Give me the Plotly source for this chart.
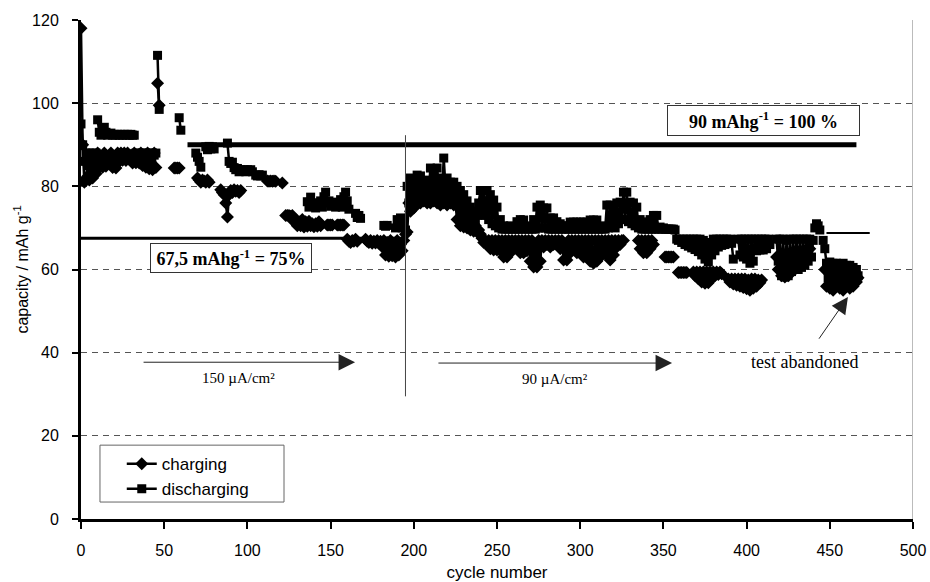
import plotly.graph_objects as go

# ---------------- data ----------------
# Each series is stored as segments: a start cycle and one capacity value per cycle.
chg_seg_start = [0, 46, 56, 70, 84, 112, 121, 123, 148, 154, 160, 171, 335, 351, 359, 368, 389, 418, 447]
chg_seg_values = [
    [118, 90, 81, 82, 86, 81.5, 87, 82, 86, 83,
     88, 84.5, 87, 84.6, 88, 84.8, 87, 86, 88, 84.5,
     87, 84.4, 88, 86, 88, 86.3, 88, 86.2, 88, 86.5,
     87.5, 85.6, 88, 85.7, 87, 85.6, 88, 85, 87.5, 84.6,
     88, 84.2, 87, 84, 88, 84.5],
    [104.8, 99.5],
    [84.4, 84.4, 84.4, 84.4],
    [82, 81.5, 81, 81.5, 81.3, 81, 81.5, 81],
    [79.2, 78.5, 78, 76, 72.6, 78, 79, 78.5, 79.2, 78.8, 79, 78.5, 79],
    [81.3, 81.2, 81.3, 81.2, 81.3, 81.2],
    [80.8],
    [73, 73, 73, 72.8, 73, 71.5, 72, 70.5, 71.5, 70.5, 72, 70.2, 71.5, 70.4, 71.6, 70.5, 71, 70.3, 71, 70.4, 71.5, 70.5],
    [70.7, 70.7, 70.7, 70.7],
    [70.7, 70.7, 70.7, 70.7, 70.7],
    [67.3, 66.8, 66.5, 67, 66.8, 67.3, 66.8],
    [67.3, 66.8, 66.5, 67, 66.3, 66.8, 66.4, 67, 66.3, 66.8,      # 171
     65.5, 67, 63.5, 66.5, 63.2, 67, 63.3, 66, 63, 67,            # 181
     63.5, 66, 64.5, 67, 68.5, 69, 76, 74, 77, 74.8,              # 191
     78, 76, 78.5, 76, 78, 76.5, 78.5, 76, 79, 76,                # 201
     80, 76.5, 80, 76, 79.5, 75.5, 80, 76, 79, 75.5,              # 211
     78.5, 76, 78, 75.5, 76, 72, 75, 70.5, 74, 70.2,              # 221
     73, 70, 72, 69.5, 71.5, 69.2, 70.5, 69, 69.5, 68.5,          # 231
     67.5, 66.5, 67, 66, 67, 65, 67, 64.7, 67, 64.7,              # 241
     67, 64.5, 67, 63, 67, 63, 67, 64, 67, 65.4,                  # 251
     67, 65, 67, 64, 67, 64, 67, 64.5, 67, 62,                    # 261
     67, 60.6, 66, 60.6, 67, 62, 67, 65.4, 67, 66,                # 271
     67, 65.4, 67, 66, 67, 66.5, 67, 65, 67, 62.3,                # 281
     66, 62.3, 67, 64, 67, 65, 67, 64, 67, 64,                    # 291
     67, 63, 67, 63, 67, 62, 67, 61.5, 67, 62,                    # 301
     67, 63, 67, 64, 67, 63.5, 67, 62.3, 67, 63.5,                # 311
     67, 65.4, 67, 66, 67, 67],                                   # 321
    [67, 65, 67, 64, 67, 64, 67, 65, 67, 66],
    [63, 63, 63, 63, 63, 63],
    [59.3, 59.3, 59.3, 59.3, 59.3, 59.3],
    [59.4, 58.5, 59.4, 57.8, 59.4, 57, 59.4, 56.7, 59.4, 56.8, 59.4, 57.8, 59.4, 58.5, 59.4, 58.8, 59.4, 59],
    [57.7, 57, 57.7, 56.5, 57.7, 56.2, 57.7, 56, 57.7, 55.7, 57.7, 55.4, 57.5, 55, 57.7, 55.5, 57.7, 56, 57.5, 56.8, 57.5],
    [63, 60, 63, 58.5, 62, 58.2, 62.5, 58.5, 63, 59.5, 63, 60, 63.5, 60.5, 64, 61, 64, 62, 64.5, 63, 65],
    [60, 56, 59.5, 55.5, 60, 55, 59, 56, 60, 55.5, 59.5, 55, 60.5, 56, 59, 55.5, 59.5, 56, 58.5, 57, 58],
]

dis_seg_start = [0, 10, 33, 46, 59, 69, 75, 88, 105, 136, 165, 182, 189, 395, 418, 441, 446]
dis_seg_values = [
    [95, 90, 86, 88, 85, 88, 86, 88, 87, 88],
    [96, 93, 92.3, 94, 94.2, 93, 92.3, 92.5, 92.8, 92.3,
     92.5, 92.3, 92.5, 92.3, 92.5, 92.3, 92.5, 92.3, 92.5, 92.3,
     92.5, 92.3, 92.3],
    [88, 87, 88, 87.5, 88, 86.5, 88, 87, 88, 87, 88, 87.5, 88],
    [111.5, 98.5],
    [96.5, 93.5],
    [88, 87, 86, 84.6],
    [89.5, 88.8, 89.6, 89, 89.5, 89],
    [90.4, 86, 85.5, 85.8, 84.5, 84, 84.3, 83.5, 84, 83.6, 84, 83.5, 84, 83.6, 84, 83.5],
    [82.7, 82.5, 82.8, 82.5, 82.7],
    [76.3, 75, 77.4, 75.5, 76, 74.8, 75.3, 76, 76.5, 75, 77.5, 78.6, 76,
     76.5, 75.2, 76, 76.2, 75, 75.5, 76, 76.8, 75, 77.5, 78.6, 76.5, 74.5],
    [73.5, 72.5, 73, 72.3],
    [70.6, 70.4, 70.6],
    [70, 72, 71, 72.4, 70, 71.5, 69.5, 80, 76, 82,                # 189
     77.5, 81, 78, 82.7, 78.5, 82.5, 79, 81, 78, 81.5,            # 199
     79, 84.4, 80, 83, 79.5, 84.4, 80, 82, 79, 86.8,              # 209
     80, 82, 79, 81, 78.5, 81, 78, 80, 76.5, 79,                  # 219
     75.5, 78, 74.5, 76.5, 73.5, 75, 72.5, 74, 72, 73,            # 229
     76, 79, 74, 79, 73, 79, 72, 78, 71, 76.7,                    # 239
     70.5, 75, 70, 72, 69.7, 70.5, 69.7, 70.2, 69.7, 70.5,        # 249
     69.7, 69.8, 69.7, 71.5, 69.7, 72, 69.7, 71.9, 69.7, 70.5,    # 259
     69.7, 70, 69.7, 72, 69.7, 75, 70, 75.5, 70, 74.8,            # 269
     70, 74.8, 69.7, 72.4, 69.7, 72.4, 69.7, 71.5, 69.7, 71,      # 279
     69.7, 70.5, 69.7, 70.5, 69.7, 71.4, 69.7, 71.4, 69.7, 71.4,  # 289
     69.7, 71.4, 69.7, 71.4, 69.7, 71.4, 69.7, 71.9, 69.7, 71.9,  # 299
     69.7, 71.9, 69.7, 70, 69.7, 70.5, 69.7, 75.5, 70, 75.5,      # 309
     70.5, 75, 70, 76, 71, 76.2, 72, 78.6, 72, 78.6,              # 319
     71.5, 76.2, 71, 76, 70.5, 75, 70, 72, 69.7, 71.4,            # 329
     69.7, 71.4, 69.7, 72, 69.7, 73, 69.7, 73, 69.7, 70.2,        # 339
     69.7, 70, 69.7, 69.7, 69.7, 69.7, 69.7, 69.7, 69.5, 67.3,    # 349
     67, 67.3, 66.5, 67.3, 66, 67.3, 65.6, 67.3, 65.2, 67.3,      # 359
     64.8, 67.3, 64.3, 67.3, 63.5, 67, 62.5, 66.5, 61.8, 66,      # 369
     63.5, 67.3, 64.5, 67.3, 65.4, 67.3, 65.8, 67.3, 66, 67.3,    # 379
     66.3, 67.3, 66.3, 62.5],                                     # 389
    [67.3, 63.5, 67.3, 63, 67.3, 62.5, 67.3, 61.5, 67.3, 62, 67.3, 64.5, 67.3, 64.7, 67.3, 64.7, 67.3, 65, 67.3, 66],
    [67.3, 62, 67.3, 58.5, 67.3, 58.2, 67, 58.5, 67.3, 59.5, 67.3, 60, 67.3, 60, 67.3, 60.5, 67.3, 61, 67.3, 62, 67.3, 63, 67],
    [70, 71, 70.5, 69.5],
    [67, 65, 61.5, 58, 61.8, 57.5, 61.5, 57, 61.5, 56.5, 61, 57, 61.5, 57.5, 61, 56, 61, 57, 60.5, 58, 60, 58.5],
]

# reference levels and annotations
ref_100_level = 90.0          # 90 mAh/g = 100 %
ref_100_cycles = [64, 466]
ref_75_level = 67.5           # 67.5 mAh/g = 75 %
ref_75_cycles = [0, 196]
tail_level = 68.8
tail_cycles = [448, 474]
regime_change_cycle = 195
regime_line_span = [29.5, 92.3]

x_ticks = [0, 50, 100, 150, 200, 250, 300, 350, 400, 450, 500]
y_ticks = [0, 20, 40, 60, 80, 100, 120]


def build(starts, values):
    xs, ys = [], []
    for s, vals in zip(starts, values):
        if xs:
            xs.append(None)
            ys.append(None)
        xs.extend(range(s, s + len(vals)))
        ys.extend(vals)
    return xs, ys


cx, cy = build(chg_seg_start, chg_seg_values)
dx, dy = build(dis_seg_start, dis_seg_values)

fig = go.Figure()
fig.add_trace(go.Scatter(
    x=cx, y=cy, name="charging", mode="lines+markers",
    line=dict(color="black", width=2.5),
    marker=dict(symbol="diamond", size=10, color="black"),
    connectgaps=False,
))
fig.add_trace(go.Scatter(
    x=dx, y=dy, name="discharging", mode="lines+markers",
    line=dict(color="black", width=2.5),
    marker=dict(symbol="square", size=9, color="black"),
    connectgaps=False,
))

serif = "Liberation Serif, Times New Roman, serif"
sans = "Liberation Sans, Arial, sans-serif"

shapes = [
    dict(type="line", xref="x", yref="y", x0=ref_100_cycles[0], x1=ref_100_cycles[1],
         y0=ref_100_level, y1=ref_100_level, line=dict(color="black", width=5)),
    dict(type="line", xref="x", yref="y", x0=ref_75_cycles[0], x1=ref_75_cycles[1],
         y0=ref_75_level, y1=ref_75_level, line=dict(color="black", width=3)),
    dict(type="line", xref="x", yref="y", x0=tail_cycles[0], x1=tail_cycles[1],
         y0=tail_level, y1=tail_level, line=dict(color="black", width=2)),
    dict(type="line", xref="x", yref="y", x0=regime_change_cycle, x1=regime_change_cycle,
         y0=regime_line_span[0], y1=regime_line_span[1], line=dict(color="#444", width=1)),
    dict(type="line", xref="x", yref="y", x0=500, x1=500, y0=0, y1=120,
         line=dict(color="#777", width=1)),
    dict(type="rect", xref="paper", yref="paper", x0=0.0228, x1=0.244, y0=0.034, y1=0.148,
         line=dict(color="#666", width=1)),
]

annotations = [
    dict(x=410, y=95.8, xref="x", yref="y", showarrow=False,
         text="<b>90 mAhg<sup>-1</sup> = 100 %</b>", font=dict(family=serif, size=18, color="black"),
         width=189, height=27, bordercolor="#333", borderwidth=1, bgcolor="white"),
    dict(x=90.1, y=62.7, xref="x", yref="y", showarrow=False,
         text="<b>67,5 mAhg<sup>-1</sup> = 75%</b>", font=dict(family=serif, size=18, color="black"),
         width=158, height=26, bordercolor="#333", borderwidth=1, bgcolor="white"),
    dict(x=94.4, y=33.9, xref="x", yref="y", showarrow=False,
         text="150 µA/cm²", font=dict(family=serif, size=15, color="black")),
    dict(x=284.9, y=33.7, xref="x", yref="y", showarrow=False,
         text="90 µA/cm²", font=dict(family=serif, size=15, color="black")),
    dict(x=434.5, y=37.7, xref="x", yref="y", showarrow=False,
         text="test abandoned", font=dict(family=serif, size=18, color="black")),
    dict(x=164.7, y=37.7, ax=36.7, ay=37.7, xref="x", yref="y", axref="x", ayref="y",
         text="", showarrow=True, arrowhead=2, arrowsize=3.3, arrowwidth=1, arrowcolor="#222"),
    dict(x=355.2, y=37.5, ax=213.9, ay=37.5, xref="x", yref="y", axref="x", ayref="y",
         text="", showarrow=True, arrowhead=2, arrowsize=3.3, arrowwidth=1, arrowcolor="#222"),
    dict(x=460.9, y=53.4, ax=442.9, ay=43.0, xref="x", yref="y", axref="x", ayref="y",
         text="", showarrow=True, arrowhead=2, arrowsize=3.3, arrowwidth=1, arrowcolor="#222"),
]

fig.update_layout(
    width=930, height=582,
    margin=dict(l=81, r=17, t=20, b=63, autoexpand=False),
    paper_bgcolor="white", plot_bgcolor="white",
    font=dict(family=sans, size=16, color="black"),
    shapes=shapes, annotations=annotations,
    legend=dict(x=0.049, y=0.146, xanchor="left", yanchor="top",
                bgcolor="rgba(0,0,0,0)", borderwidth=0,
                font=dict(family=sans, size=17, color="black")),
    xaxis=dict(range=[0, 500], tickvals=x_ticks, showgrid=False, zeroline=False,
               automargin=False,
               showline=True, linecolor="black", linewidth=3,
               ticks="outside", ticklen=7, tickwidth=2, tickcolor="black",
               ticklabelstandoff=8,
               title=dict(text="cycle number", font=dict(family=sans, size=17), standoff=8)),
    yaxis=dict(range=[0, 120], tickvals=y_ticks, showgrid=True, gridcolor="#555",
               gridwidth=1, griddash="6px,5px", zeroline=False,
               automargin=False,
               showline=True, linecolor="black", linewidth=3,
               ticks="outside", ticklen=6, tickwidth=2, tickcolor="black",
               ticklabelstandoff=10,
               title=dict(text="capacity / mAh g<sup>-1</sup>", font=dict(family=sans, size=16), standoff=0)),
)

fig.write_html("out.html")
